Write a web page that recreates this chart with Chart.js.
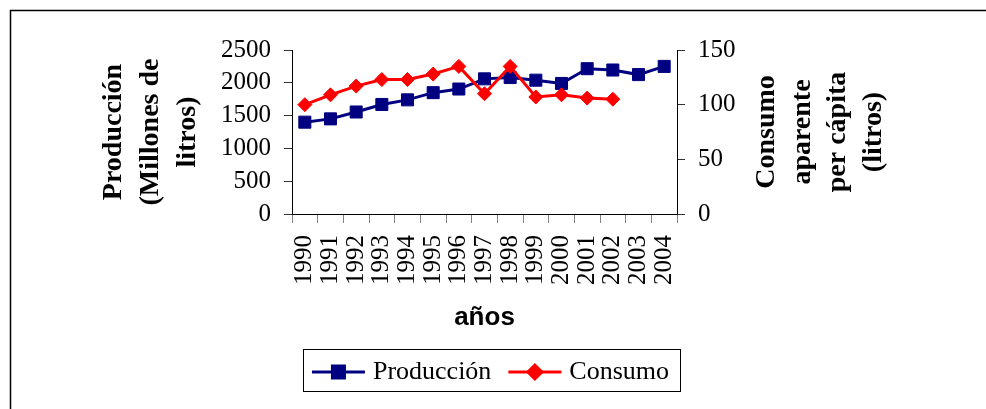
<!DOCTYPE html>
<html>
<head>
<meta charset="utf-8">
<script src="https://cdn.jsdelivr.net/npm/chart.js@4.4.1/dist/chart.umd.min.js"></script>
<style>
  html, body { margin: 0; padding: 0; background: #fff; }
  #wrap { width: 986px; height: 409px; }
</style>
</head>
<body>
<div id="wrap"><canvas id="chart" width="986" height="409"></canvas></div>
<script>
// ── Data ────────────────────────────────────────────────────────────────────
const years = ["1990", "1991", "1992", "1993", "1994", "1995", "1996", "1997",
               "1998", "1999", "2000", "2001", "2002", "2003", "2004"];

// Producción (millones de litros) - left axis
const produccion = [1400, 1450, 1555, 1670, 1740, 1850, 1905, 2060,
                    2080, 2040, 1990, 2215, 2195, 2125, 2250];

// Consumo aparente per cápita (litros) - right axis, no data for 2003/2004
const consumo = [100, 109, 117, 123, 123, 128, 135, 110,
                 135, 107, 109, 106, 105, null, null];

const leftRange  = { min: 0, max: 2500, step: 500 };
const rightRange = { min: 0, max: 150,  step: 50 };

const leftTitle  = ["Producción", "(Millones de", "litros)"];
const rightTitle = ["Consumo", "aparente", "per cápita", "(litros)"];

// ── Styles ──────────────────────────────────────────────────────────────────
const SERIF = "'Liberation Serif', 'Times New Roman', serif";
const SANS  = "'Liberation Sans', Arial, sans-serif";
const NAVY  = "#000080";
const RED   = "#ff0000";

Chart.defaults.font.family = SERIF;
Chart.defaults.color = "#000";

// white background + the frame lines at top/left
const framePlugin = {
    id: "frame",
    beforeDraw(chart) {
        const ctx = chart.ctx;
        ctx.save();
        ctx.fillStyle = "#fff";
        ctx.fillRect(0, 0, chart.width, chart.height);
        ctx.strokeStyle = "#000";
        ctx.lineWidth = 1.5;
        ctx.beginPath();
        ctx.moveTo(10.5, chart.height + 2);
        ctx.lineTo(10.5, 10.5);
        ctx.lineTo(chart.width + 2, 10.5);
        ctx.stroke();
        ctx.restore();
    },
};

// right title reads bottom-to-top (Chart.js would rotate it the other way)
const rightTitlePlugin = {
    id: "rightTitle",
    afterDraw(chart) {
        const ctx = chart.ctx;
        const area = chart.chartArea;
        const cy = (area.top + area.bottom) / 2;
        ctx.save();
        ctx.fillStyle = "#000";
        ctx.font = "bold 28px " + SERIF;
        ctx.textAlign = "center";
        ctx.textBaseline = "middle";
        rightTitle.forEach((line, i) => {
            ctx.save();
            ctx.translate(area.right + 90 + i * 35.5, cy);
            ctx.rotate(-Math.PI / 2);
            ctx.fillText(line, 0, 0);
            ctx.restore();
        });
        ctx.restore();
    },
};

// legend: line + marker symbols and the box around it
const legendDecor = {
    id: "legendDecor",
    afterDraw(chart) {
        const legend = chart.legend;
        if (!legend || !legend.legendHitBoxes.length) return;
        const ctx = chart.ctx;
        const boxes = legend.legendHitBoxes;
        const items = legend.legendItems;
        const half = legend._itemHeight ? legend._itemHeight / 2 : 13;
        let cy = 0;
        boxes.forEach((hb, i) => {
            const ds = chart.data.datasets[items[i].datasetIndex];
            const y = hb.top + half;
            cy = y;
            ctx.save();
            ctx.strokeStyle = ds.borderColor;
            ctx.lineWidth = 3;
            ctx.beginPath();
            ctx.moveTo(hb.left, y);
            ctx.lineTo(hb.left + 53, y);
            ctx.stroke();
            ctx.fillStyle = ds.pointBackgroundColor;
            ctx.strokeStyle = ds.pointBorderColor;
            Chart.helpers.drawPoint(ctx, {
                pointStyle: ds.pointStyle,
                radius: ds.pointRadius,
                rotation: 0,
                borderWidth: 1,
            }, hb.left + 26.5, y);
            ctx.restore();
        });
        const first = boxes[0];
        const last = boxes[boxes.length - 1];
        ctx.save();
        ctx.strokeStyle = "#000";
        ctx.lineWidth = 1;
        ctx.strokeRect(Math.round(first.left - 9) + 0.5, Math.round(cy - 23) + 0.5,
                       Math.round(last.left + last.width + 11 - first.left + 9), 42);
        ctx.restore();
    },
};

const plainNumber = (v) => String(v);

new Chart(document.getElementById("chart"), {
    type: "line",
    data: {
        labels: years,
        datasets: [
            {
                label: "Producción",
                data: produccion,
                yAxisID: "y",
                borderColor: NAVY,
                backgroundColor: NAVY,
                borderWidth: 3,
                pointStyle: "rect",
                pointRadius: 8.5,
                pointBackgroundColor: NAVY,
                pointBorderColor: NAVY,
                pointBorderWidth: 1,
                tension: 0,
                order: 2,
            },
            {
                label: "Consumo",
                data: consumo,
                yAxisID: "y1",
                borderColor: RED,
                backgroundColor: RED,
                borderWidth: 3,
                pointStyle: "rectRot",
                pointRadius: 7,
                pointBackgroundColor: RED,
                pointBorderColor: RED,
                pointBorderWidth: 1,
                tension: 0,
                spanGaps: false,
                order: 1,
            },
        ],
    },
    options: {
        responsive: false,
        animation: false,
        layout: { padding: { left: 95, right: 100, top: 50, bottom: 14 } },
        plugins: {
            tooltip: { enabled: false },
            legend: {
                position: "bottom",
                labels: {
                    font: { size: 26, family: SERIF },
                    color: "#000",
                    boxWidth: 48,
                    boxHeight: 10,
                    padding: 17,
                    sort: (a, b) => a.datasetIndex - b.datasetIndex,
                    generateLabels(chart) {
                        return Chart.defaults.plugins.legend.labels.generateLabels(chart)
                            .map(item => Object.assign(item, {
                                fillStyle: "rgba(0,0,0,0)",
                                strokeStyle: "rgba(0,0,0,0)",
                                lineWidth: 0,
                            }));
                    },
                },
            },
        },
        scales: {
            x: {
                type: "category",
                offset: true,
                grid: { offset: true, drawOnChartArea: false, drawTicks: true,
                        tickLength: 9, color: "#808080" },
                border: { display: true, color: "#000", width: 1 },
                ticks: { autoSkip: false, minRotation: 90, maxRotation: 90,
                         padding: 12, color: "#000", font: { size: 25, family: SERIF } },
                title: { display: true, text: "años", color: "#000",
                         font: { size: 26, weight: "bold", family: SANS, lineHeight: 1.2 },
                         padding: { top: 0, bottom: 9 } },
                afterFit(scale) { scale.height = 128; },
            },
            y: {
                position: "left",
                min: leftRange.min,
                max: leftRange.max,
                grid: { drawOnChartArea: false, drawTicks: true, tickLength: 8, color: "#333" },
                border: { display: true, color: "#000", width: 1 },
                ticks: { stepSize: leftRange.step, autoSkip: false, padding: 13, color: "#000",
                         callback: plainNumber, font: { size: 25, family: SERIF } },
                title: { display: true, text: leftTitle, color: "#000",
                         font: { size: 28, weight: "bold", family: SERIF, lineHeight: 1.33 },
                         padding: { top: 0, bottom: 0 } },
                afterFit(scale) { scale.width = 197; },
            },
            y1: {
                position: "right",
                min: rightRange.min,
                max: rightRange.max,
                grid: { drawOnChartArea: false, drawTicks: true, tickLength: 8, color: "#333" },
                border: { display: true, color: "#000", width: 1 },
                ticks: { stepSize: rightRange.step, autoSkip: false, padding: 13, color: "#000",
                         callback: plainNumber, font: { size: 25, family: SERIF } },
                afterFit(scale) { scale.width = 209; },
            },
        },
    },
    plugins: [framePlugin, rightTitlePlugin, legendDecor],
});
</script>
</body>
</html>
